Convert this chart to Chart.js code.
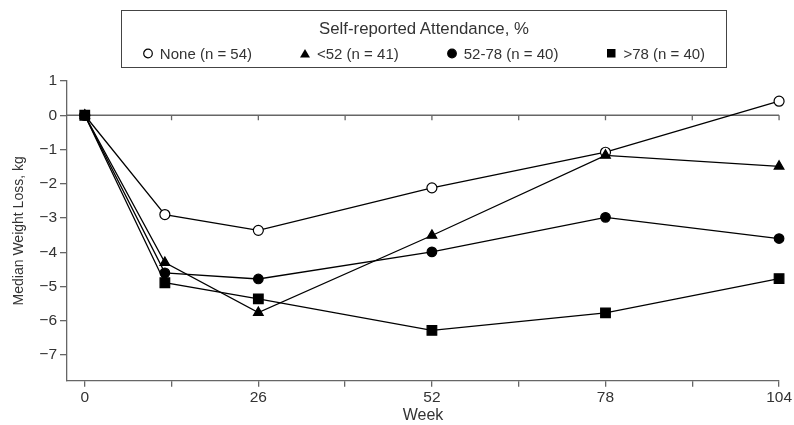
<!DOCTYPE html>
<html>
<head>
<meta charset="utf-8">
<script src="https://cdn.jsdelivr.net/npm/chart.js@4.4.1/dist/chart.umd.min.js"></script>
<style>
  body { margin: 0; background: #fff; }
  #wrap { position: relative; width: 794px; height: 425px; }
  #legend {
    position: absolute; left: 121px; top: 10px; width: 606px; height: 58px;
    box-sizing: border-box; border: 1.3px solid #444;
    font-family: 'Liberation Sans', Arial, sans-serif; color: #333;
  }
  #legend .ttl { position: absolute; left: 0; right: 0; top: 8px; text-align: center; font-size: 16.8px; }
  #legend .row {
    position: absolute; left: 0; right: 0; top: 34px;
    display: flex; justify-content: center; gap: 48px; font-size: 15px;
  }
  #legend .item { display: flex; align-items: center; }
  #legend svg { margin-right: 7px; }
</style>
</head>
<body>
<div id="wrap">
  <canvas id="chart" width="794" height="425"></canvas>
  <div id="legend">
    <div class="ttl">Self-reported Attendance, %</div>
    <div class="row" id="legendRow"></div>
  </div>
</div>
<script>
// weeks where median weight loss was measured
const weeks = [0, 12, 26, 52, 78, 104];

const seriesNames = ['None (n = 54)', '<52 (n = 41)', '52-78 (n = 40)', '>78 (n = 40)'];
const pointStyles = ['circle', 'triangle', 'circle', 'rect'];
const pointFills = ['#fff', '#000', '#000', '#000'];

const noneVals = [0, -2.90, -3.36, -2.12, -1.08, 0.41];
const under52Vals = [0, -4.30, -5.76, -3.51, -1.17, -1.49];
const mid52to78Vals = [0, -4.60, -4.78, -3.99, -2.98, -3.60];
const over78Vals = [0, -4.89, -5.36, -6.28, -5.77, -4.77];

const xTickValues = [0, 13, 26, 39, 52, 65, 78, 91, 104];
const xLabelValues = [0, 26, 52, 78, 104];
const yTickValues = [-7, -6, -5, -4, -3, -2, -1, 0, 1];

const seriesVals = [noneVals, under52Vals, mid52to78Vals, over78Vals];
const pointRadii = [5, 5.6, 4.8, 6.8];
// lower = drawn later (on top): triangles over squares over circles
const drawOrder = [3, 0, 2, 1];

const AXIS_GREY = '#666';

// html legend
const row = document.getElementById('legendRow');
seriesNames.forEach((name, i) => {
  const item = document.createElement('div');
  item.className = 'item';
  let shape;
  if (pointStyles[i] === 'triangle') {
    shape = '<polygon points="5,1 10,9.5 0,9.5" fill="#000"/>';
  } else if (pointStyles[i] === 'rect') {
    shape = '<rect x="1" y="1" width="8.5" height="8.5" fill="#000"/>';
  } else {
    shape = `<circle cx="5" cy="5.5" r="4.3" fill="${pointFills[i]}" stroke="#000" stroke-width="1.2"/>`;
  }
  item.innerHTML = `<svg width="10" height="11" viewBox="0 0 10 11">${shape}</svg><span></span>`;
  item.querySelector('span').textContent = name;
  row.appendChild(item);
});

// horizontal line at zero with small downward ticks
const zeroLine = {
  id: 'zeroLine',
  beforeDatasetsDraw(chart) {
    const { ctx, chartArea, scales: { x, y } } = chart;
    const y0 = y.getPixelForValue(0);
    ctx.save();
    ctx.strokeStyle = AXIS_GREY;
    ctx.lineWidth = 1.3;
    ctx.beginPath();
    ctx.moveTo(chartArea.left, y0);
    ctx.lineTo(chartArea.right, y0);
    xTickValues.filter(v => v > 0).forEach(v => {
      const px = x.getPixelForValue(v);
      ctx.moveTo(px, y0);
      ctx.lineTo(px, y0 + 5);
    });
    ctx.stroke();
    ctx.restore();
  }
};

Chart.defaults.font.family = "'Liberation Sans', Arial, sans-serif";
Chart.defaults.color = '#333';

const datasets = seriesNames.map((name, i) => ({
  label: name,
  data: weeks.map((w, j) => ({ x: w, y: seriesVals[i][j] })),
  borderColor: '#000',
  borderWidth: 1.3,
  pointStyle: pointStyles[i],
  pointRadius: pointRadii[i],
  pointBackgroundColor: pointFills[i],
  pointBorderColor: '#000',
  pointBorderWidth: 1.2,
  tension: 0,
  clip: false,
  order: drawOrder[i]
}));

new Chart(document.getElementById('chart'), {
  type: 'line',
  data: { datasets },
  options: {
    responsive: false,
    animation: false,
    layout: { padding: { left: 0, right: 13, top: 81, bottom: 0 } },
    plugins: {
      legend: { display: false },
      tooltip: { enabled: false }
    },
    scales: {
      x: {
        type: 'linear',
        min: -2.66,
        max: 104,
        afterBuildTicks: axis => { axis.ticks = xTickValues.map(v => ({ value: v })); },
        afterFit: scale => { scale.height = 44.3; },
        ticks: {
          autoSkip: false,
          maxRotation: 0,
          padding: 2,
          font: { size: 15.5 },
          color: '#333',
          callback: v => xLabelValues.includes(v) ? String(v) : ''
        },
        grid: { drawOnChartArea: false, drawTicks: true, tickLength: 6, color: AXIS_GREY, lineWidth: 1.3 },
        border: { display: true, color: AXIS_GREY, width: 1.3 },
        title: { display: true, text: 'Week', font: { size: 16 }, color: '#333', padding: { top: 0, bottom: 0 } }
      },
      y: {
        min: -7.75,
        max: 1,
        afterBuildTicks: axis => { axis.ticks = yTickValues.map(v => ({ value: v })); },
        afterFit: scale => { scale.width = 67; },
        ticks: {
          padding: 3,
          font: { size: 15.5 },
          color: '#333',
          callback: v => v < 0 ? '\u2212' + Math.abs(v) : String(v)
        },
        grid: { drawOnChartArea: false, drawTicks: true, tickLength: 7, color: AXIS_GREY, lineWidth: 1.3 },
        border: { display: true, color: AXIS_GREY, width: 1.3 },
        title: { display: true, text: 'Median Weight Loss, kg', font: { size: 14 }, color: '#333', padding: { top: 11, bottom: 0 } }
      }
    }
  },
  plugins: [zeroLine]
});
</script>
</body>
</html>
